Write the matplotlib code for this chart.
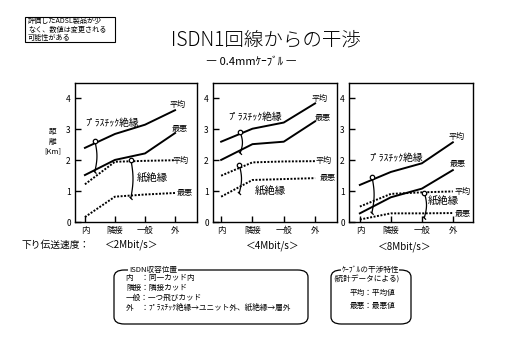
import numpy as np
import matplotlib
matplotlib.use("Agg")
import matplotlib.pyplot as plt
from matplotlib.patches import FancyBboxPatch, Rectangle

plt.rcParams['font.family'] = ['Noto Sans CJK JP', 'DejaVu Sans']

categories = ["内", "隣接", "一般", "外"]
speeds = ["＜2Mbit/s＞", "＜4Mbit/s＞", "＜8Mbit/s＞"]
yticks = [0, 1, 2, 3, 4]

# distance [km] per speed panel
plastic_avg = [
    [2.40, 2.85, 3.15, 3.62],
    [2.60, 3.02, 3.22, 3.84],
    [1.20, 1.62, 1.90, 2.58],
]
plastic_worst = [
    [1.52, 2.01, 2.22, 2.88],
    [2.01, 2.52, 2.60, 3.26],
    [0.28, 0.80, 1.08, 1.68],
]
paper_avg = [
    [1.22, 1.95, 1.98, 2.00],
    [1.50, 1.93, 1.96, 1.97],
    [0.50, 0.91, 0.96, 0.99],
]
paper_worst = [
    [0.16, 0.82, 0.89, 0.94],
    [0.82, 1.36, 1.39, 1.42],
    [0.08, 0.28, 0.28, 0.29],
]

W, H = 519, 354
fig = plt.figure(figsize=(W / 100, H / 100), dpi=100)
fig.patch.set_facecolor("white")

def fx(px):
    return px / W

def fy(py):
    return 1 - py / H

panel_px = [(75, 197), (213, 337), (349, 473)]
xlims = [(-0.33, 3.73), (-0.26, 3.70), (-0.35, 3.65)]
top_px, bot_px = 83, 222

# annotation layout per panel (positions only)
layout = [
    dict(pl_lab=(0.9, 3.22), pa_lab=(2.23, 1.40), pl_br=(0.33, 2.63, 1.63), pa_br=(1.53, 2.02, 0.78),
         ends=[(3.1, 3.80), (3.16, 3.02), (3.2, 2.0), (3.3, 0.94)]),
    dict(pl_lab=(1.08, 3.41), pa_lab=(1.57, 0.97), pl_br=(0.61, 2.90, 2.24), pa_br=(0.58, 1.85, 0.94),
         ends=[(3.13, 4.0), (3.23, 3.38), (3.26, 1.98), (3.39, 1.43)]),
    dict(pl_lab=(1.16, 2.08), pa_lab=(2.70, 0.64), pl_br=(0.39, 1.47, 0.30), pa_br=(2.08, 0.95, 0.14),
         ends=[(3.13, 2.78), (3.16, 1.90), (3.3, 1.0), (3.32, 0.28)]),
]

def bracket(ax, x, ytop, ybot):
    t = np.linspace(0, 1, 40)
    xs = x + 0.07 * np.sin(np.pi * t)
    ys = ytop + (ybot - ytop) * t
    ax.plot(xs, ys, color="black", lw=0.9, clip_on=False)
    ax.plot([x], [ytop], marker="o", ms=3.2, mfc="white", mec="black", mew=0.9)
    ax.plot([x - 0.03, x + 0.04], [ybot + 0.02, ybot - 0.05], color="black", lw=0.9)

x = np.arange(len(categories))
for i, (l, r) in enumerate(panel_px):
    ax = fig.add_axes([fx(l), fy(bot_px), fx(r - l), fy(top_px) - fy(bot_px)])
    ax.set_xlim(*xlims[i])
    ax.set_ylim(0, 4.5)
    ax.plot(x, plastic_avg[i], color="black", lw=1.4)
    ax.plot(x, plastic_worst[i], color="black", lw=1.4)
    ax.plot(x, paper_avg[i], color="black", lw=1.4, ls=(0, (1, 0.8)))
    ax.plot(x, paper_worst[i], color="black", lw=1.4, ls=(0, (1, 0.8)))
    ax.set_xticks(x)
    ax.set_xticklabels(categories, fontsize=6)
    ax.set_yticks(yticks)
    ax.set_yticklabels([str(v) for v in yticks], fontsize=6)
    ax.tick_params(axis="both", direction="in", length=4, width=1, pad=3)
    for s in ax.spines.values():
        s.set_linewidth(1.0)
    L = layout[i]
    ax.text(*L["pl_lab"], "ﾌﾟﾗｽﾁｯｸ絶縁", fontsize=7, ha="center", va="center")
    ax.text(*L["pa_lab"], "紙絶縁", fontsize=7.5, ha="center", va="center")
    for (ex, ey), lab in zip(L["ends"], ["平均", "最悪", "平均", "最悪"]):
        ax.text(ex, ey, lab, fontsize=5.8, ha="center", va="center")
    bracket(ax, *L["pl_br"])
    bracket(ax, *L["pa_br"])

# y label
fig.text(fx(53), fy(142), "距\n離\n[Km]", fontsize=5.5, ha="center", va="center", linespacing=1.3)

# title
fig.text(fx(266), fy(40), "ISDN1回線からの干渉", fontsize=14, ha="center", va="center", fontweight="light")
fig.text(fx(251), fy(62), "― 0.4mmｹｰﾌﾞﾙ ―", fontsize=8, ha="center", va="center")

# note box
fig.patches.append(Rectangle((fx(25), fy(42)), fx(90), fy(17) - fy(42), transform=fig.transFigure,
                             fill=False, ec="black", lw=0.8))
fig.text(fx(28), fy(29.5), "評価したADSL製品が少\nなく、数値は変更される\n可能性がある",
         fontsize=5.1, ha="left", va="center", linespacing=1.15)

# speed labels
fig.text(fx(22), fy(245), "下り伝送速度：", fontsize=7, ha="left", va="center")
for sx, sy, s in zip([132, 273, 405], [245, 246, 247], speeds):
    fig.text(fx(sx), fy(sy), s, fontsize=7, ha="center", va="center")

# legend box 1
b1 = FancyBboxPatch((fx(114), fy(324)), fx(194), fy(270) - fy(324), boxstyle="round,pad=0,rounding_size=0.02",
                    transform=fig.transFigure, fill=False, ec="black", lw=0.9)
fig.patches.append(b1)
fig.text(fx(153), fy(270), "ISDN収容位置", fontsize=5.5, ha="center", va="center",
         bbox=dict(fc="white", ec="none", pad=0.5))
leg1 = ["内　：同一カッド内", "隣接：隣接カッド", "一般：一つ飛びカッド", "外　：ﾌﾟﾗｽﾁｯｸ絶縁→ユニット外、紙絶縁→層外"]
for k, line in enumerate(leg1):
    fig.text(fx(126), fy(278 + k * 10), line, fontsize=5.5, ha="left", va="center")

# legend box 2
b2 = FancyBboxPatch((fx(331), fy(324)), fx(80), fy(270) - fy(324), boxstyle="round,pad=0,rounding_size=0.02",
                    transform=fig.transFigure, fill=False, ec="black", lw=0.9)
fig.patches.append(b2)
fig.text(fx(370), fy(270), "ｹｰﾌﾞﾙの干渉特性", fontsize=5.5, ha="center", va="center",
         bbox=dict(fc="white", ec="none", pad=0.5))
leg2 = ["(統計データによる)", "平均：平均値", "最悪：最悪値"]
for k, (line, lx) in enumerate(zip(leg2, [333, 350, 350])):
    fig.text(fx(lx), fy(280 + k * 13), line, fontsize=5.5, ha="left", va="center")

fig.savefig("out.png", dpi=100, facecolor="white")
